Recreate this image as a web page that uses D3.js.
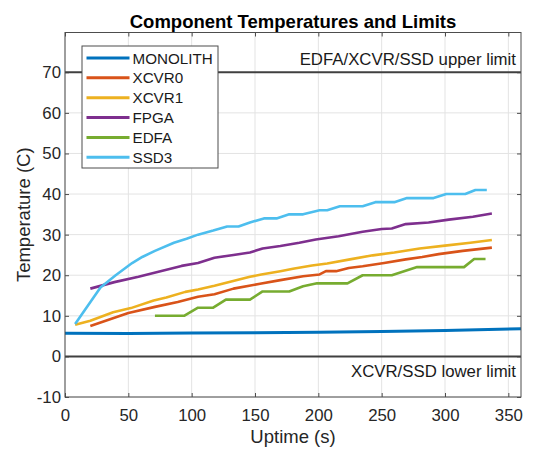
<!DOCTYPE html>
<html>
<head>
<meta charset="utf-8">
<script src="https://cdn.jsdelivr.net/npm/d3@7"></script>
<style>
  body { margin: 0; background: #fff; }
  svg { font-family: "Liberation Sans", Arial, sans-serif; }
</style>
</head>
<body>
<div id="chart"></div>
<script>
// Component temperature data (time in s, temperature in C)
const monolithT = [0, 50, 100, 150, 200, 250, 300, 360];
const monolithV = [5.7, 5.65, 5.75, 5.85, 5.95, 6.15, 6.4, 6.8];

const xcvr0T = [20, 50, 71, 89, 105, 118, 133, 154, 170, 188, 201, 206, 214, 224, 235, 252, 269, 282, 295, 314, 337];
const xcvr0V = [7.5, 10.7, 12.2, 13.4, 14.7, 15.3, 16.7, 17.9, 18.8, 19.75, 20.2, 21, 21, 21.8, 22.2, 23, 23.9, 24.5, 25.2, 26, 26.8];

const xcvr1T = [8, 20, 38, 52, 70, 80, 95, 105, 118, 132, 146, 155, 170, 180, 195, 207, 225, 243, 260, 280, 300, 320, 337];
const xcvr1V = [7.8, 8.8, 10.9, 11.9, 13.8, 14.5, 15.9, 16.5, 17.4, 18.5, 19.6, 20.2, 21, 21.6, 22.4, 22.9, 23.9, 24.9, 25.6, 26.6, 27.3, 28, 28.7];

const fpgaT = [20, 39, 58, 73, 92, 105, 118, 133, 146, 156, 170, 185, 198, 216, 235, 250, 258, 269, 287, 303, 322, 337];
const fpgaV = [16.7, 18.3, 19.6, 20.8, 22.3, 23.0, 24.3, 25, 25.6, 26.6, 27.2, 28, 28.8, 29.6, 30.7, 31.4, 31.5, 32.6, 33, 33.7, 34.4, 35.2];

const edfaT = [71, 94, 105, 117, 127, 146, 156, 177, 188, 199, 223, 235, 258, 278, 315, 323, 332];
const edfaV = [10, 10, 12, 12, 14, 14, 16, 16, 17.3, 18, 18, 20, 20, 22, 22, 24, 24];

const ssd3T = [8, 28, 40, 53, 61, 71, 86, 96, 105, 117, 128, 137, 146, 157, 167, 177, 188, 201, 207, 217, 235, 245, 260, 270, 291, 301, 316, 324, 333];
const ssd3V = [8, 17, 20, 23, 24.5, 26, 28, 29, 30, 31, 32, 32, 33, 34, 34, 35, 35, 36, 36, 37, 37, 38, 38, 39, 39, 40, 40, 41, 41];

const seriesNames = ["MONOLITH", "XCVR0", "XCVR1", "FPGA", "EDFA", "SSD3"];
const seriesColors = ["#0072BD", "#D95319", "#EDB120", "#7E2F8E", "#77AC30", "#4DBEEE"];
const seriesT = [monolithT, xcvr0T, xcvr1T, fpgaT, edfaT, ssd3T];
const seriesV = [monolithV, xcvr0V, xcvr1V, fpgaV, edfaV, ssd3V];

const limitValues = [70, 0];
const limitLabels = ["EDFA/XCVR/SSD upper limit", "XCVR/SSD lower limit"];

const xTicks = [0, 50, 100, 150, 200, 250, 300, 350];
const yTicks = [-10, 0, 10, 20, 30, 40, 50, 60, 70];

const width = 534, height = 449;
const margin = { top: 32.5, right: 13, bottom: 52, left: 65 };
const iw = width - margin.left - margin.right;
const ih = height - margin.top - margin.bottom;

const svg = d3.select("#chart").append("svg")
  .attr("width", width)
  .attr("height", height);

const x = d3.scaleLinear().domain([0, 360]).range([0, iw]);
const y = d3.scaleLinear().domain([-10, 79.8]).range([ih, 0]);

const g = svg.append("g").attr("transform", `translate(${margin.left},${margin.top})`);

// grid
g.selectAll(".gx").data(xTicks).enter().append("line")
  .attr("x1", d => x(d)).attr("x2", d => x(d))
  .attr("y1", 0).attr("y2", ih)
  .style("stroke", "#e3e3e3").style("stroke-width", 1);
g.selectAll(".gy").data(yTicks).enter().append("line")
  .attr("x1", 0).attr("x2", iw)
  .attr("y1", d => y(d)).attr("y2", d => y(d))
  .style("stroke", "#e3e3e3").style("stroke-width", 1);

// axes
const tickStyle = sel => {
  sel.select(".domain").remove();
  sel.selectAll(".tick line").style("stroke", "#4d4d4d");
  sel.selectAll(".tick text").style("font-size", "16.8px").style("fill", "#262626")
    .style("font-family", "'Liberation Sans', Arial, sans-serif");
};
g.append("g").attr("transform", `translate(0,${ih})`)
  .call(d3.axisBottom(x).tickValues(xTicks).tickSizeInner(-4).tickSizeOuter(0).tickPadding(12).tickFormat(d => String(d)))
  .call(tickStyle);
g.append("g")
  .call(d3.axisTop(x).tickValues(xTicks).tickSizeInner(-4).tickSizeOuter(0).tickFormat(""))
  .call(tickStyle);
g.append("g")
  .call(d3.axisLeft(y).tickValues(yTicks).tickSizeInner(-4).tickSizeOuter(0).tickPadding(4).tickFormat(d => String(d)))
  .call(tickStyle);
g.append("g").attr("transform", `translate(${iw},0)`)
  .call(d3.axisRight(y).tickValues(yTicks).tickSizeInner(-4).tickSizeOuter(0).tickFormat(""))
  .call(tickStyle);

// limit lines
g.selectAll(".limit").data(limitValues).enter().append("line")
  .attr("x1", 0).attr("x2", iw)
  .attr("y1", d => y(d)).attr("y2", d => y(d))
  .style("stroke", "#404040").style("stroke-width", 2);
g.append("text")
  .attr("x", iw - 5).attr("y", y(limitValues[0]) - 7)
  .attr("text-anchor", "end")
  .style("font-size", "16.8px").style("fill", "#1a1a1a")
  .text(limitLabels[0]);
g.append("text")
  .attr("x", iw - 5).attr("y", y(limitValues[1]) + 20.5)
  .attr("text-anchor", "end")
  .style("font-size", "16.8px").style("fill", "#1a1a1a")
  .text(limitLabels[1]);

// series
const line = d3.line().x(d => x(d[0])).y(d => y(d[1]));
seriesNames.forEach((name, i) => {
  const pts = seriesT[i].map((t, j) => [t, seriesV[i][j]]);
  g.append("path")
    .datum(pts)
    .attr("d", line)
    .style("fill", "none")
    .style("stroke", seriesColors[i])
    .style("stroke-width", i === 0 ? 3 : 2.6)
    .style("stroke-linejoin", "round");
});

// box
g.append("rect")
  .attr("width", iw).attr("height", ih)
  .style("fill", "none").style("stroke", "#4d4d4d").style("stroke-width", 1);

// legend
const lg = svg.append("g").attr("transform", "translate(82,46)");
lg.append("rect")
  .attr("width", 136).attr("height", 122)
  .style("fill", "#fff").style("stroke", "#4d4d4d").style("stroke-width", 1);
seriesNames.forEach((name, i) => {
  const yy = 12 + i * 19.85;
  lg.append("line")
    .attr("x1", 4.5).attr("x2", 47.5).attr("y1", yy).attr("y2", yy)
    .style("stroke", seriesColors[i]).style("stroke-width", 3);
  lg.append("text")
    .attr("x", 50.5).attr("y", yy + 5.5)
    .style("font-size", "15.2px").style("fill", "#1a1a1a")
    .text(name);
});

// title and labels
svg.append("text")
  .attr("x", margin.left + iw / 2).attr("y", 28.3)
  .attr("text-anchor", "middle")
  .style("font-size", "18.5px").style("font-weight", "bold").style("fill", "#000")
  .text("Component Temperatures and Limits");
svg.append("text")
  .attr("x", margin.left + iw / 2).attr("y", 443)
  .attr("text-anchor", "middle")
  .style("font-size", "18.5px").style("fill", "#262626")
  .text("Uptime (s)");
svg.append("text")
  .attr("transform", `translate(30,${margin.top + ih / 2}) rotate(-90)`)
  .attr("text-anchor", "middle")
  .style("font-size", "18.5px").style("fill", "#262626")
  .text("Temperature (C)");
</script>
</body>
</html>
